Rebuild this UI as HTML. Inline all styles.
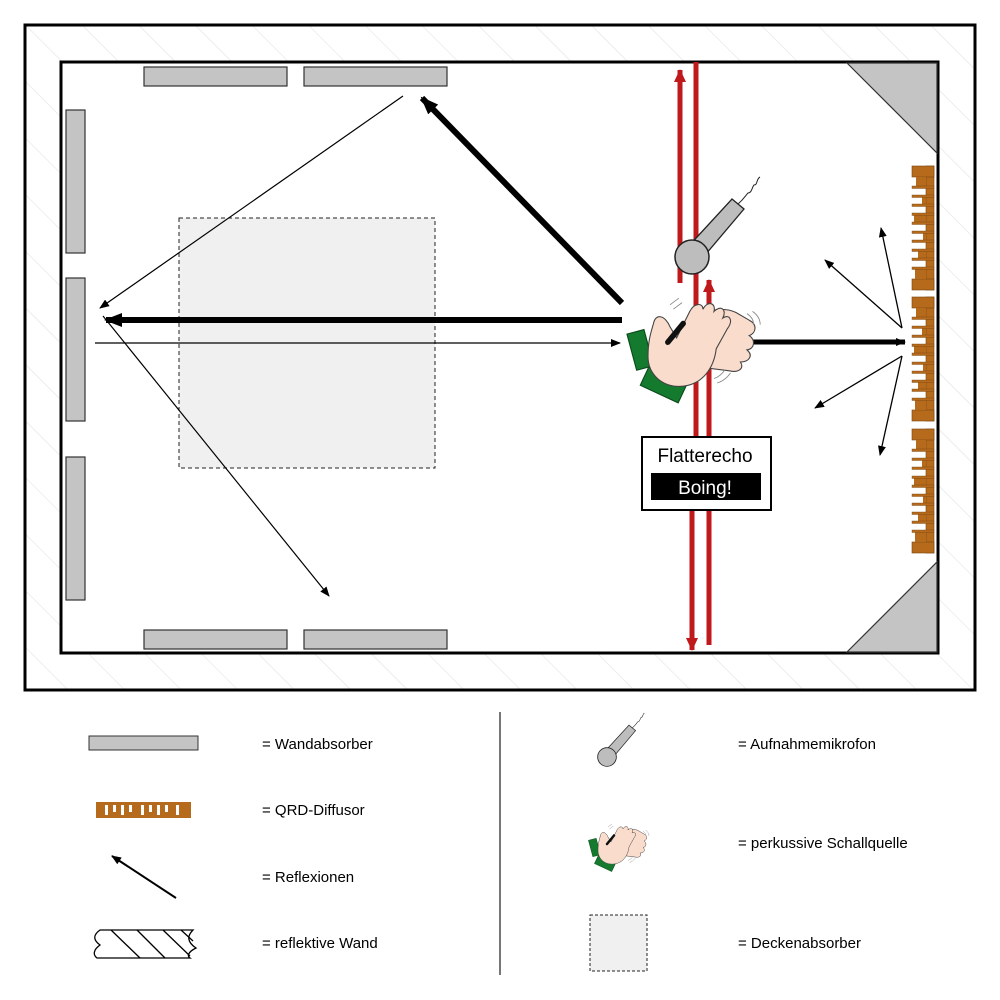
<!DOCTYPE html>
<html><head><meta charset="utf-8"><style>
html,body{margin:0;padding:0;background:#fff;}
svg{display:block;font-family:"Liberation Sans","DejaVu Sans",sans-serif;}
</style></head><body>
<svg width="1000" height="1000" viewBox="0 0 1000 1000" xmlns="http://www.w3.org/2000/svg">
<defs>
<pattern id="hatch" width="40" height="40" patternUnits="userSpaceOnUse" patternTransform="rotate(-45)">
<line x1="0" y1="0" x2="0" y2="40" stroke="#e2e2e2" stroke-width="1.2"/>
</pattern>
<marker id="ah" markerWidth="10" markerHeight="8" refX="9" refY="4" orient="auto" markerUnits="userSpaceOnUse"><path d="M0,0 L10,4 L0,8 z" fill="#000"/></marker>
<marker id="ahb" markerWidth="18" markerHeight="14" refX="16" refY="7" orient="auto" markerUnits="userSpaceOnUse"><path d="M0,0 L18,7 L0,14 z" fill="#000"/></marker>
<marker id="ahr" markerWidth="14" markerHeight="14" refX="12" refY="7" orient="auto" markerUnits="userSpaceOnUse"><path d="M0,1 L13,7 L0,13 z" fill="#c0191b"/></marker>
<g id="diff">
<rect x="0" y="0" width="22" height="124" fill="#fff"/>
<rect x="14" y="0" width="8" height="124" fill="#b56a1c" stroke="#7a4510" stroke-width="0.6"/>
<rect x="0" y="0" width="22" height="11" fill="#b56a1c" stroke="#7a4510" stroke-width="0.6"/>
<rect x="0" y="113" width="22" height="11" fill="#b56a1c" stroke="#7a4510" stroke-width="0.6"/>
<rect x="4" y="11" width="10" height="9" fill="#b56a1c"/>
<rect x="10" y="29" width="4" height="9" fill="#b56a1c"/>
<rect x="2" y="47" width="12" height="9" fill="#b56a1c"/>
<rect x="11" y="65" width="3" height="9" fill="#b56a1c"/>
<rect x="6" y="83" width="8" height="9" fill="#b56a1c"/>
<rect x="3" y="101" width="11" height="12" fill="#b56a1c"/>
<g fill="#b56a1c" stroke="#7a4510" stroke-width="0.4">
<rect x="0" y="20" width="22" height="2.5"/><rect x="0" y="29" width="22" height="2.5"/>
<rect x="0" y="38" width="22" height="2.5"/><rect x="0" y="47" width="22" height="2.5"/>
<rect x="0" y="56" width="22" height="2.5"/><rect x="0" y="65" width="22" height="2.5"/>
<rect x="0" y="74" width="22" height="2.5"/><rect x="0" y="83" width="22" height="2.5"/>
<rect x="0" y="92" width="22" height="2.5"/><rect x="0" y="101" width="22" height="2.5"/>
</g>
</g>
<g id="mic">
<path d="M-6,-8 L40,-58 L52,-48 L8,4 z" fill="#bdbdbd" stroke="#222" stroke-width="1.3"/>
<circle cx="0" cy="0" r="17" fill="#bdbdbd" stroke="#222" stroke-width="1.5"/>
<path d="M46,-53 C52,-58 54,-62 56,-64 C60,-64 60,-70 62,-72 C66,-72 64,-78 68,-80" fill="none" stroke="#222" stroke-width="1"/>
</g>
<g id="hands">
<rect x="-55" y="-8" width="16" height="34" fill="#147a2e" stroke="#0a4a1a" stroke-width="1" transform="rotate(-15 -47 9)"/>
<rect x="-45" y="32" width="38" height="18" fill="#147a2e" stroke="#0a4a1a" stroke-width="1" transform="rotate(25 -26 41)"/>
<path d="M-5,-12 C5,-25 25,-32 40,-25 L52,-18 C60,-14 58,-6 52,-4 C58,0 57,8 50,9 C56,14 52,20 44,20 C48,26 42,30 34,28 L10,25 z" fill="#f9dccb" stroke="#444" stroke-width="1"/>
<path d="M-35,-15 C-33,-25 -24,-22 -20,-12 L-14,-2 L-2,-26 C2,-34 10,-34 10,-28 C14,-36 22,-34 20,-26 C26,-32 32,-28 28,-20 C34,-24 38,-18 32,-10 L22,8 C20,25 10,40 -8,42 C-28,44 -40,30 -40,15 C-40,0 -37,-8 -35,-15 z" fill="#f9dccb" stroke="#444" stroke-width="1"/>
<path d="M-22,2 L-8,-15" stroke="#111" stroke-width="5" stroke-linecap="round"/>
<path d="M-20,-32 l8,-6 M-17,-28 l8,-6 M50,-24 q6,4 6,10 M55,-26 q7,5 7,12 M20,35 q6,-2 10,-8 M23,39 q7,-2 12,-9" stroke="#888" stroke-width="0.8" fill="none"/>
</g>
</defs>

<rect x="25" y="25" width="950" height="665" fill="url(#hatch)" stroke="#000" stroke-width="3"/>
<rect x="61" y="62" width="877" height="591" fill="#fff" stroke="#000" stroke-width="3"/>

<rect x="179" y="218" width="256" height="250" fill="#f0f0f0" stroke="#222" stroke-width="1" stroke-dasharray="4,3"/>

<g fill="#c4c4c4" stroke="#333" stroke-width="1.2">
<rect x="144" y="67" width="143" height="19"/><rect x="304" y="67" width="143" height="19"/>
<rect x="144" y="630" width="143" height="19"/><rect x="304" y="630" width="143" height="19"/>
<rect x="66" y="110" width="19" height="143"/><rect x="66" y="278" width="19" height="143"/><rect x="66" y="457" width="19" height="143"/>
</g>
<path d="M847,63 L937,63 L937,153 z" fill="#c4c4c4" stroke="#333" stroke-width="1.2"/>
<path d="M847,652 L937,652 L937,562 z" fill="#c4c4c4" stroke="#333" stroke-width="1.2"/>

<use href="#diff" x="912" y="166"/>
<use href="#diff" x="912" y="297"/>
<use href="#diff" x="912" y="429"/>

<g stroke="#c0191b" stroke-width="5">
<line x1="680" y1="283" x2="680" y2="70" marker-end="url(#ahr)"/>
<line x1="696" y1="62" x2="696" y2="510"/>
<line x1="709" y1="645" x2="709" y2="280" marker-end="url(#ahr)"/>
<line x1="692" y1="510" x2="692" y2="650" marker-end="url(#ahr)"/>
</g>

<line x1="622" y1="303" x2="422" y2="98" stroke="#000" stroke-width="6" marker-end="url(#ahb)"/>
<line x1="403" y1="96" x2="100" y2="308" stroke="#000" stroke-width="1.2" marker-end="url(#ah)"/>
<line x1="622" y1="320" x2="106" y2="320" stroke="#000" stroke-width="6" marker-end="url(#ahb)"/>
<line x1="95" y1="343" x2="620" y2="343" stroke="#000" stroke-width="1.2" marker-end="url(#ah)"/>
<line x1="103" y1="316" x2="329" y2="596" stroke="#000" stroke-width="1.2" marker-end="url(#ah)"/>
<line x1="752" y1="342" x2="905" y2="342" stroke="#000" stroke-width="5" marker-end="url(#ah)"/>
<g stroke="#000" stroke-width="1.3">
<line x1="902" y1="328" x2="825" y2="260" marker-end="url(#ah)"/>
<line x1="902" y1="328" x2="881" y2="228" marker-end="url(#ah)"/>
<line x1="902" y1="356" x2="815" y2="408" marker-end="url(#ah)"/>
<line x1="902" y1="356" x2="880" y2="455" marker-end="url(#ah)"/>
</g>

<use href="#mic" x="692" y="257"/>
<g transform="translate(692,340) scale(1.1)"><use href="#hands"/></g>

<rect x="642" y="437" width="129" height="73" fill="#fff" stroke="#000" stroke-width="2"/>
<text x="705" y="462" font-size="19" text-anchor="middle" fill="#000">Flatterecho</text>
<rect x="651" y="473" width="110" height="27" fill="#000"/>
<text x="705" y="494" font-size="19" text-anchor="middle" fill="#fff">Boing!</text>

<line x1="500" y1="712" x2="500" y2="975" stroke="#777" stroke-width="2"/>
<rect x="89" y="736" width="109" height="14" fill="#c4c4c4" stroke="#333" stroke-width="1"/>
<g transform="translate(96,802)">
<rect x="0" y="0" width="95" height="16" fill="#b56a1c"/>
<g fill="#fff"><rect x="9" y="3" width="3" height="10"/><rect x="17" y="3" width="3" height="7"/><rect x="25" y="3" width="3" height="10"/><rect x="33" y="3" width="3" height="7"/><rect x="45" y="3" width="3" height="10"/><rect x="53" y="3" width="3" height="7"/><rect x="61" y="3" width="3" height="10"/><rect x="69" y="3" width="3" height="7"/><rect x="80" y="3" width="3" height="10"/></g>
</g>
<line x1="176" y1="898" x2="112" y2="856" stroke="#000" stroke-width="2" marker-end="url(#ah)"/>
<g fill="none" stroke="#000" stroke-width="1.3">
<path d="M100,930 L193,930 C187,936 187,942 196,948 C188,952 187,956 190,958 L97,958 C93,955 93,950 100,945 C93,940 93,935 100,930 z" fill="#fff"/>
<line x1="111" y1="930" x2="140" y2="958"/><line x1="137" y1="930" x2="165" y2="958"/><line x1="163" y1="930" x2="190" y2="956"/><line x1="181" y1="930" x2="193" y2="941"/>
</g>
<g font-size="15" fill="#000" xml:space="preserve" style="white-space:pre">
<text x="262" y="749">=  Wandabsorber</text>
<text x="262" y="815">=  QRD-Diffusor</text>
<text x="262" y="882">=  Reflexionen</text>
<text x="262" y="948">=  reflektive Wand</text>
<text x="738" y="749">=  Aufnahmemikrofon</text>
<text x="738" y="848">=  perkussive Schallquelle</text>
<text x="738" y="948">=  Deckenabsorber</text>
</g>
<g transform="translate(607,757) scale(0.55)"><use href="#mic"/></g>
<g transform="translate(618,843) scale(0.5)"><use href="#hands"/></g>
<rect x="590" y="915" width="57" height="56" fill="#f0f0f0" stroke="#222" stroke-width="1" stroke-dasharray="3,2"/>
</svg>
</body></html>
